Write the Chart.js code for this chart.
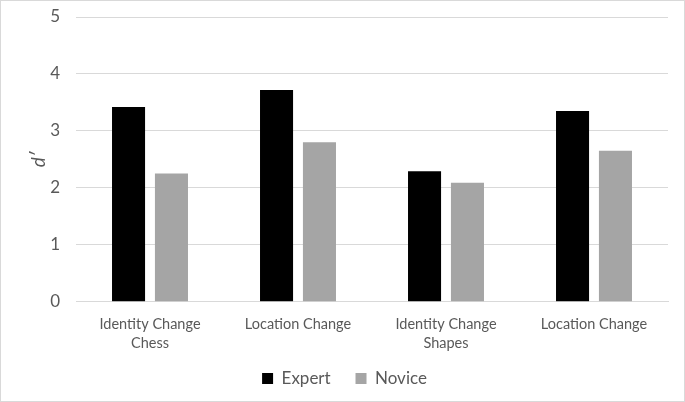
<!DOCTYPE html>
<html>
<head>
<meta charset="utf-8">
<script src="https://cdn.jsdelivr.net/npm/chart.js@4"></script>
<style>
  html, body { margin: 0; padding: 0; background: #fff; }
  #wrap { position: relative; width: 683px; height: 400px; border: 1px solid #d9d9d9; }
</style>
</head>
<body>
<div id="wrap"><canvas id="chart"></canvas></div>
<script>
let categories = [["Identity Change", "Chess"], "Location Change", ["Identity Change", "Shapes"], "Location Change"];
let expertValues = [3.42, 3.72, 2.29, 3.35];
let noviceValues = [2.25, 2.80, 2.09, 2.65];
let yTicks = [0, 1, 2, 3, 4, 5];

let fontName = "Lato, 'Open Sans', sans-serif";
let textColor = "#595959";

let ctx = document.getElementById("chart");
let chart = new Chart(ctx, {
    type: "bar",
    data: {
        labels: categories,
        datasets: [
            { label: "Expert", data: expertValues, backgroundColor: "#000000" },
            { label: "Novice", data: noviceValues, backgroundColor: "#a5a5a5" }
        ]
    },
    options: {
        responsive: true,
        maintainAspectRatio: false,
        animation: false,
        datasets: {
            bar: { categoryPercentage: 0.58, barPercentage: 0.77 }
        },
        layout: { padding: { left: 20, right: 16, top: 16, bottom: 4 } },
        plugins: {
            tooltip: { enabled: false },
            legend: {
                position: "bottom",
                labels: {
                    color: textColor,
                    font: { family: fontName, size: 17 },
                    boxWidth: 11,
                    boxHeight: 11,
                    padding: 12,
                    // a bit more room between the two legend items, like the original
                    generateLabels: (c) => {
                        let items = Chart.defaults.plugins.legend.labels.generateLabels(c);
                        items.forEach((it, i) => {
                            if (i < items.length - 1) it.text = it.text + " \u2002";
                        });
                        return items;
                    }
                }
            }
        },
        scales: {
            x: {
                grid: { display: false },
                border: { display: true, color: "#d9d9d9", width: 1 },
                ticks: {
                    color: textColor,
                    font: { family: fontName, size: 14.5, lineHeight: 1.25 },
                    maxRotation: 0,
                    padding: 6
                }
            },
            y: {
                min: 0,
                max: 5,
                afterBuildTicks: (axis) => { axis.ticks = yTicks.map(v => ({ value: v })); },
                afterFit: (axis) => {
                    axis.width = 55;
                    axis.paddingTop = 0;
                    axis.paddingBottom = 0;
                },
                grid: { color: "#d9d9d9", lineWidth: 1, drawTicks: false },
                border: { display: false },
                ticks: {
                    color: textColor,
                    font: { family: fontName, size: 17 },
                    padding: 16
                },
                title: {
                    display: true,
                    text: "d\u2032",
                    color: textColor,
                    font: { family: fontName, size: 19, style: "italic" },
                    padding: 6
                }
            }
        }
    }
});
</script>
</body>
</html>
